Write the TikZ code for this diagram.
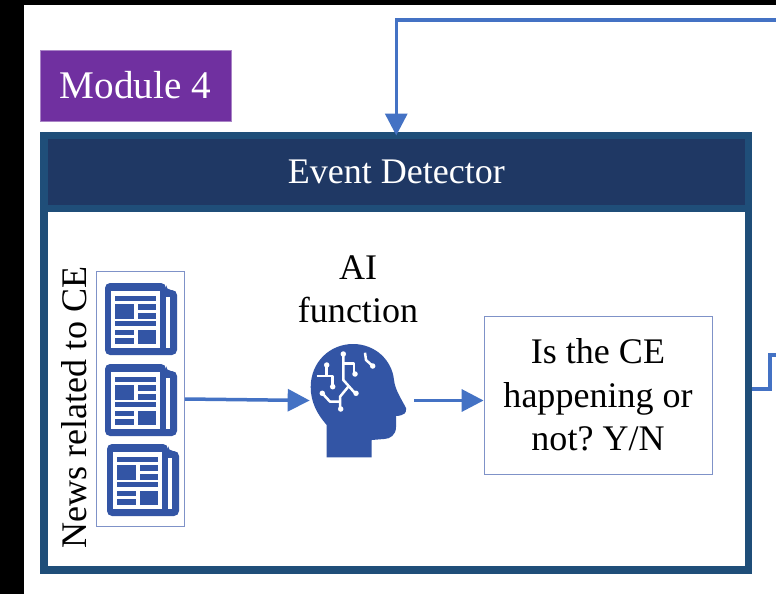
\documentclass[tikz,border=0pt]{standalone}
\usepackage{fontspec}
\setmainfont{Liberation Serif}
\usetikzlibrary{arrows.meta}

\definecolor{framecol}{HTML}{1F4E79}
\definecolor{titlecol}{HTML}{1F3864}
\definecolor{arrowcol}{HTML}{4472C4}
\definecolor{iconcol}{HTML}{3355A5}
\definecolor{modulecol}{HTML}{7030A0}
\definecolor{boxcol}{HTML}{7F92C8}

\tikzset{
    bigtext/.style={font=\frenchspacing\fontsize{20.5}{24.7}\selectfont, align=center},
    thinbox/.style={draw=boxcol, line width=0.5pt, inner sep=0pt},
    flow/.style={arrowcol, line width=0.07cm, -{Triangle[length=0.44cm, width=0.44cm]}},
    wire/.style={white, line width=0.05cm, line join=round},
    newspaper/.pic={
        \fill[iconcol, rounded corners=0.1cm] (0,0) -- (61,0) -- (61,7) -- (72,7) -- (72,72) -- (0,72) -- cycle;
        \fill[white] (6,8) rectangle (55,65);
        \fill[white] (61,14) rectangle (64.5,65);
        \fill[iconcol] (10,12.5) rectangle (51,18);
        \fill[iconcol] (10,21) rectangle (29,35.5);
        \fill[iconcol] (32.5,21) rectangle (51,26.5);
        \fill[iconcol] (32.5,30) rectangle (51,35.5);
        \fill[iconcol] (10,38) rectangle (51,43);
        \fill[iconcol] (10,46.5) rectangle (29,51.5);
        \fill[iconcol] (10,55) rectangle (29,60.5);
        \fill[iconcol] (32.5,46.5) rectangle (51,60.5);
    },
    aihead/.pic={
        \fill[iconcol] (36.7,127.3) -- (36.7,95) .. controls (27,84) and (20.7,72) .. (20.7,57)
            .. controls (20.7,32) and (40,14) .. (63,14)
            .. controls (85,14) and (102,30) .. (104,50)
            .. controls (105,60) and (112,70) .. (116,78)
            .. controls (117,83) and (114,85.5) .. (106,86)
            -- (106,97) .. controls (106,105) and (100,109) .. (94,109)
            -- (81.7,110) -- (81.7,127.3) -- cycle;
        \draw[wire] (53.3,24) -- (53.3,50) -- (64,62) -- (66,63.3);
        \draw[wire] (53.3,33.3) -- (64,33.3) -- (64,44);
        \draw[wire] (58.3,56.7) -- (50,66.7) -- (50,79);
        \draw[wire] (50,71.7) -- (40,71.7) -- (32.3,63.3);
        \draw[wire] (36.7,35) -- (36.7,46) (26.7,46) -- (42.7,46) -- (42.7,56.7);
        \draw[wire] (75,22.7) -- (76,30) -- (82.7,36);
        \foreach \dotx/\doty in {53.3/24, 65/44, 66/63.3, 50.7/79, 32.3/63.3, 36.7/35, 42.7/56.7, 82.7/36}
            \fill[white] (\dotx,\doty) circle (0.055cm);
    }
}

\begin{document}
\begin{tikzpicture}[x=0.02cm, y=-0.02cm]
        \useasboundingbox (0,0) rectangle (776,594);
        \fill[white] (0,0) rectangle (776,594);

        % Bordo nero
        \fill[black] (0,0) rectangle (24,594);
        \fill[black] (0,0) rectangle (776,5);

        % Moduli
        \node[fill=modulecol, draw=modulecol!60!white, line width=0.4pt, text=white, minimum width=3.82cm, minimum height=1.42cm, inner sep=0pt, font=\fontsize{22.3}{26}\selectfont] (module) at (135.5,85.5) {Module 4};
        \node[draw=framecol, line width=0.15cm, minimum width=14.09cm, minimum height=8.69cm, inner sep=0pt] (mainframe) at (396.25,352.75) {};
        \node[fill=titlecol, draw=framecol, line width=0.15cm, text=white, minimum width=14.09cm, minimum height=1.46cm, inner sep=0pt, outer sep=0pt, bigtext] (title) at (396.25,172) {Event Detector};

        % Notizie
        \node[thinbox, minimum width=1.76cm, minimum height=5.11cm] (newsbox) at (140.5,399) {};
        \node[rotate=90, bigtext] (newslabel) at (74,407.5) {News related to CE};
        \pic at (105,283) {newspaper};
        \pic at (105,364) {newspaper};
        \pic at (107,444) {newspaper};

        % Testa
        \node[minimum width=1.92cm, minimum height=2.26cm, inner sep=0pt] (head) at (358,400.5) {};
        \pic at (290,330) {aihead};
        \node[bigtext] (ailabel) at (358,289.5) {AI\\function};

        \node[thinbox, bigtext, minimum width=4.56cm, minimum height=3.16cm] (answer) at (598,395) {Is the CE\\happening or\\not? Y/N};

        % Frecce
        \coordinate (topend) at (776,20);
        \coordinate (topturn) at (396.25,20);
        \coordinate (elbow) at (770,389);
        \coordinate (rightend) at (776,355);

        \draw[flow] (topend) -- (topturn) -- (title.north); % Entrata
        \draw[flow] (newsbox.east) -- (head.west);
        \draw[flow, shorten <=0.16cm] (head.east) -- (head.east -| answer.west);
        \draw[arrowcol, line width=0.07cm] (mainframe.east |- elbow) -- (elbow) |- (rightend); % Uscita
    \end{tikzpicture}
\end{document}
